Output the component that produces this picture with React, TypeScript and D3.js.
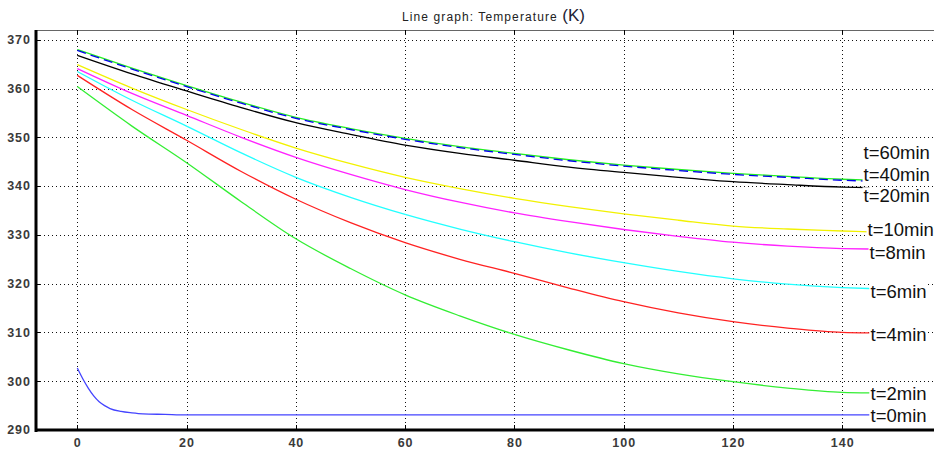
import React, { useEffect, useRef } from "react";
import { select, scaleLinear, line, curveMonotoneX } from "d3";

// time axis (min) and temperature readings (K)
const timeSteps = [0, 10, 20, 30, 40, 50, 60, 70, 80, 90, 100, 110, 120, 130, 140, 145];
const temp60 = [368.0, 364.2, 360.6, 357.2, 354.1, 351.8, 349.8, 348.1, 346.7, 345.4, 344.3, 343.4, 342.6, 342.0, 341.4, 341.2];
const temp40 = [367.8, 364.0, 360.4, 357.0, 353.9, 351.6, 349.6, 347.9, 346.5, 345.2, 344.1, 343.2, 342.4, 341.8, 341.2, 341.0];
const temp20 = [366.8, 363.0, 359.5, 356.1, 353.0, 350.6, 348.4, 346.7, 345.3, 343.9, 342.8, 341.8, 340.9, 340.3, 339.8, 339.7];
const temp10 = [364.9, 360.1, 355.7, 351.6, 347.8, 344.6, 341.8, 339.5, 337.5, 335.8, 334.3, 333.0, 331.8, 331.2, 330.8, 330.6];
const temp8 = [364.1, 359.0, 354.5, 350.0, 345.9, 342.4, 339.3, 336.7, 334.5, 332.7, 331.1, 329.7, 328.5, 327.7, 327.2, 327.1];
const temp6 = [363.5, 357.6, 352.3, 346.8, 341.8, 337.7, 334.2, 331.2, 328.6, 326.3, 324.3, 322.5, 321.0, 319.9, 319.2, 319.0];
const temp4 = [362.7, 355.7, 349.4, 343.0, 337.3, 332.5, 328.4, 325.0, 322.1, 319.1, 316.3, 314.0, 312.2, 310.9, 310.0, 309.9];
const temp2 = [360.4, 352.3, 344.8, 336.8, 329.2, 323.1, 317.7, 313.4, 309.6, 306.4, 303.6, 301.5, 299.9, 298.6, 297.7, 297.6];

// t=0 drops fast at the start, so it has its own time samples
const timeSteps0 = [0, 1, 2, 3, 4, 5, 6, 8, 10, 12, 16, 20, 40, 60, 80, 100, 120, 140, 145];
const temp0 = [302.7, 300.5, 298.6, 297.0, 295.8, 295.0, 294.4, 293.8, 293.5, 293.3, 293.2, 293.1, 293.1, 293.1, 293.1, 293.1, 293.1, 293.1, 293.1];

const seriesNames = ["t=60min", "t=40min", "t=20min", "t=10min", "t=8min", "t=6min", "t=4min", "t=2min", "t=0min"];
const seriesValues = [temp60, temp40, temp20, temp10, temp8, temp6, temp4, temp2, temp0];

const xTicks = [0, 20, 40, 60, 80, 100, 120, 140];
const yTicks = [290, 300, 310, 320, 330, 340, 350, 360, 370];

const W = 934;
const H = 453;
const font = "'Liberation Sans', Arial, sans-serif";

const colors = ["#22ee22", "#0000ee", "#000000", "#f2f200", "#ff22ff", "#22ffff", "#ff2222", "#33ee33", "#4444ff"];
// pixel nudges so labels don't collide (like the original)
const labelNudge = [
  { dx: -7, dy: -28 },
  { dx: -7, dy: -7 },
  { dx: -7, dy: 8 },
  { dx: -3, dy: -3 },
  { dx: -1, dy: 3 },
  { dx: 0, dy: 3 },
  { dx: 0, dy: 1 },
  { dx: 0, dy: 0 },
  { dx: 0, dy: 0 },
];

export default function App() {
  const ref = useRef<SVGSVGElement>(null);

  useEffect(() => {
    const svg = select(ref.current);
    svg.selectAll("*").remove();

    const left = 36, right = W, top = 30, bottom = 430;
    const xScale = scaleLinear().domain([-7.56, 156.8]).range([left, right]);
    const yScale = scaleLinear().domain([290, 372]).range([bottom, top]);

    svg.append("rect").attr("width", W).attr("height", H).attr("fill", "#fff");

    // title
    const title = svg.append("text")
      .attr("x", 402).attr("y", 21)
      .attr("font-family", font).attr("fill", "#222");
    title.append("tspan").attr("font-size", 12).attr("letter-spacing", 1.1).text("Line graph: Temperature ");
    title.append("tspan").attr("font-size", 17).attr("fill", "#223").text("(K)");

    // dotted grid
    const grid = svg.append("g").attr("stroke", "#111").attr("stroke-width", 1).attr("stroke-dasharray", "1,3");
    xTicks.forEach(t => {
      grid.append("line")
        .attr("x1", Math.round(xScale(t)) + 0.5).attr("x2", Math.round(xScale(t)) + 0.5)
        .attr("y1", top).attr("y2", bottom);
    });
    yTicks.filter(t => t > 290).forEach(t => {
      grid.append("line")
        .attr("x1", left).attr("x2", right)
        .attr("y1", Math.round(yScale(t)) + 0.5).attr("y2", Math.round(yScale(t)) + 0.5);
    });

    // curves
    const lineGen = (xs: number[]) => line<number>()
      .x((d, i) => xScale(xs[i]))
      .y(d => yScale(d))
      .curve(curveMonotoneX);

    seriesValues.forEach((vals, i) => {
      const xs = i === 8 ? timeSteps0 : timeSteps;
      svg.append("path")
        .datum(vals)
        .attr("d", lineGen(xs))
        .attr("fill", "none")
        .attr("stroke", colors[i])
        .attr("stroke-width", 1.3)
        .attr("stroke-dasharray", i === 1 ? "9,5" : null);
    });

    // frame
    svg.append("line").attr("x1", left).attr("x2", right).attr("y1", top + 0.5).attr("y2", top + 0.5)
      .attr("stroke", "#666").attr("stroke-width", 1);
    svg.append("line").attr("x1", left).attr("x2", left).attr("y1", top).attr("y2", bottom + 2)
      .attr("stroke", "#000").attr("stroke-width", 3);
    svg.append("line").attr("x1", left - 1).attr("x2", right).attr("y1", bottom).attr("y2", bottom)
      .attr("stroke", "#000").attr("stroke-width", 3);

    // tick marks
    xTicks.forEach(t => {
      const x = Math.round(xScale(t)) + 0.5;
      svg.append("line").attr("x1", x).attr("x2", x).attr("y1", top).attr("y2", top + 4).attr("stroke", "#000");
      svg.append("line").attr("x1", x).attr("x2", x).attr("y1", bottom - 5).attr("y2", bottom).attr("stroke", "#000");
    });
    yTicks.forEach(t => {
      const y = Math.round(yScale(t)) + 0.5;
      svg.append("line").attr("x1", left).attr("x2", left + 4).attr("y1", y).attr("y2", y).attr("stroke", "#000");
    });

    // tick labels
    svg.append("g").selectAll("text").data(yTicks).join("text")
      .attr("x", 31).attr("y", d => yScale(d)).attr("dy", "0.35em")
      .attr("text-anchor", "end")
      .attr("font-family", font).attr("font-size", 12.5).attr("font-weight", "bold")
      .attr("letter-spacing", 1).attr("fill", "#3a3a3a")
      .text(d => d);
    svg.append("g").selectAll("text").data(xTicks).join("text")
      .attr("x", d => xScale(d) + 0.5).attr("y", 443).attr("dy", "0.35em")
      .attr("text-anchor", "middle")
      .attr("font-family", font).attr("font-size", 12.5).attr("font-weight", "bold")
      .attr("letter-spacing", 1).attr("fill", "#3a3a3a")
      .text(d => d);

    // end labels with white boxes
    seriesValues.forEach((vals, i) => {
      const xs = i === 8 ? timeSteps0 : timeSteps;
      const lastX = xs[xs.length - 1];
      const lastY = vals[vals.length - 1];
      const lx = xScale(lastX) + labelNudge[i].dx;
      const ly = yScale(lastY) + labelNudge[i].dy;
      const g = svg.append("g");
      const txt = g.append("text")
        .attr("x", lx + 1).attr("y", ly).attr("dy", "0.36em")
        .attr("font-family", font).attr("font-size", 18.5).attr("fill", "#111")
        .text(seriesNames[i]);
      const bb = (txt.node() as SVGTextElement).getBBox();
      g.insert("rect", "text")
        .attr("x", bb.x - 1).attr("y", bb.y + 2)
        .attr("width", bb.width + 2).attr("height", bb.height - 4)
        .attr("fill", "#fff");
    });
  }, []);

  return (
    <div style={{ position: "absolute", left: 0, top: 0 }}>
      <svg ref={ref} width={W} height={H} style={{ display: "block" }} />
    </div>
  );
}
